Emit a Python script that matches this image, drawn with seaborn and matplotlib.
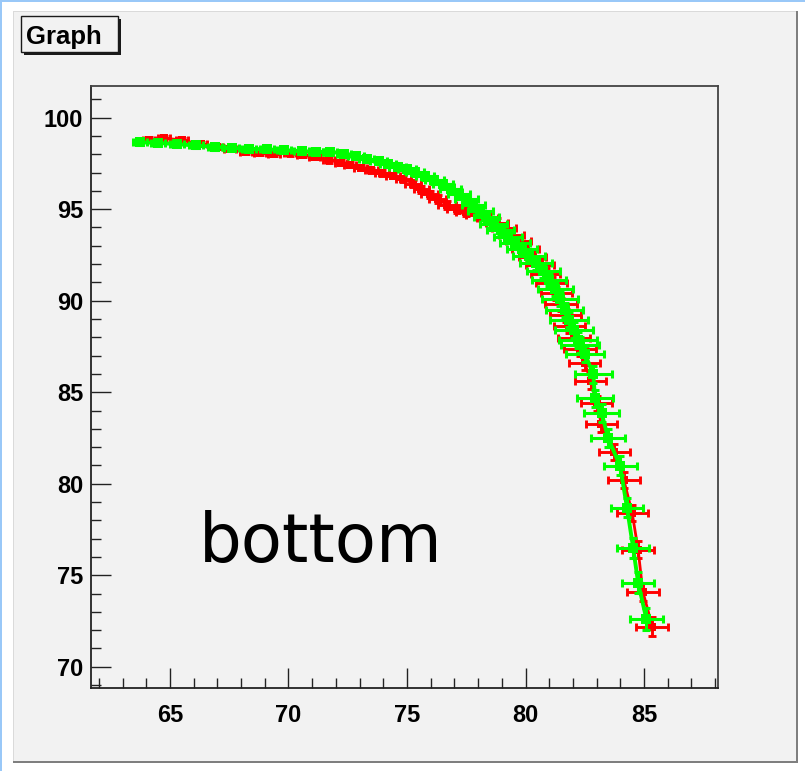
import matplotlib
matplotlib.use("Agg")
import matplotlib.pyplot as plt
from matplotlib.patches import Rectangle
from matplotlib.ticker import MultipleLocator
import numpy as np
import pandas as pd
import seaborn as sns

# ---- data: two curves with x/y uncertainties ----
red_x = [64.10, 64.75, 65.50, 66.30, 67.00, 67.55, 68.20, 68.80, 69.40, 70.05,
         70.60, 71.10, 71.70, 72.20, 72.60, 73.05, 73.50, 73.95, 74.40, 74.85,
         75.25, 75.60, 75.95, 76.30, 76.70, 77.10, 77.50, 77.95, 78.40, 78.80,
         79.10, 79.40, 79.70, 80.00, 80.30, 80.60, 80.85, 81.10, 81.30, 81.50,
         81.70, 81.85, 82.05, 82.30, 82.50, 82.75, 83.00, 83.20, 83.75, 84.15,
         84.50, 84.75, 84.95, 85.35]
red_y = [98.80, 98.88, 98.78, 98.55, 98.40, 98.28, 98.15, 98.08, 98.02, 98.05,
         97.95, 97.85, 97.68, 97.55, 97.42, 97.26, 97.12, 96.98, 96.84, 96.66,
         96.40, 96.10, 95.82, 95.55, 95.25, 95.00, 94.85, 94.70, 94.50, 94.25,
         93.95, 93.60, 93.25, 92.85, 92.40, 91.95, 91.45, 90.95, 90.40, 89.80,
         89.20, 88.60, 87.95, 87.35, 86.60, 85.60, 84.40, 83.25, 81.75, 80.20,
         78.40, 76.40, 74.10, 72.20]
red_ex = [0.25, 0.25, 0.25, 0.25, 0.25, 0.25, 0.25, 0.25, 0.25, 0.25,
          0.25, 0.25, 0.25, 0.25, 0.25, 0.28, 0.28, 0.28, 0.30, 0.30,
          0.32, 0.32, 0.34, 0.36, 0.38, 0.40, 0.42, 0.44, 0.46, 0.48,
          0.50, 0.52, 0.54, 0.56, 0.58, 0.60, 0.62, 0.64, 0.64, 0.66,
          0.66, 0.66, 0.66, 0.66, 0.66, 0.66, 0.66, 0.66, 0.66, 0.66,
          0.66, 0.66, 0.67, 0.67]
red_ey = [0.12, 0.12, 0.12, 0.12, 0.12, 0.12, 0.12, 0.12, 0.12, 0.12,
          0.12, 0.12, 0.14, 0.14, 0.14, 0.14, 0.15, 0.15, 0.16, 0.17,
          0.18, 0.19, 0.20, 0.21, 0.22, 0.23, 0.24, 0.25, 0.26, 0.27,
          0.28, 0.28, 0.29, 0.30, 0.30, 0.31, 0.32, 0.33, 0.34, 0.35,
          0.36, 0.37, 0.38, 0.39, 0.40, 0.41, 0.42, 0.43, 0.44, 0.45,
          0.46, 0.47, 0.48, 0.50]

green_x = [63.75, 64.50, 65.30, 66.10, 66.90, 67.60, 68.35, 69.10, 69.80, 70.55,
           71.15, 71.75, 72.35, 72.85, 73.30, 73.80, 74.20, 74.60, 75.00, 75.35,
           75.75, 76.15, 76.50, 76.85, 77.20, 77.50, 77.80, 78.10, 78.35, 78.65,
           78.95, 79.25, 79.55, 79.85, 80.15, 80.45, 80.75, 81.00, 81.25, 81.45,
           81.65, 81.85, 82.05, 82.23, 82.30, 82.51, 82.86, 82.93, 83.21, 83.49,
           83.99, 84.28, 84.54, 84.75, 85.10]
green_y = [98.65, 98.62, 98.55, 98.48, 98.40, 98.35, 98.30, 98.27, 98.22, 98.18,
           98.12, 98.15, 98.02, 97.88, 97.76, 97.62, 97.48, 97.33, 97.18, 97.02,
           96.82, 96.60, 96.38, 96.12, 95.85, 95.55, 95.22, 94.90, 94.55, 94.20,
           93.85, 93.50, 93.15, 92.80, 92.45, 92.05, 91.60, 91.15, 90.65, 90.10,
           89.50, 88.95, 88.40, 87.85, 87.60, 87.09, 85.98, 84.67, 83.85, 82.48,
           80.97, 78.70, 76.50, 74.60, 72.60]
green_ex = [0.30, 0.30, 0.30, 0.30, 0.30, 0.30, 0.30, 0.30, 0.30, 0.30,
            0.30, 0.30, 0.30, 0.32, 0.32, 0.34, 0.34, 0.36, 0.36, 0.38,
            0.38, 0.40, 0.42, 0.44, 0.46, 0.48, 0.50, 0.52, 0.54, 0.56,
            0.58, 0.60, 0.62, 0.64, 0.66, 0.68, 0.70, 0.72, 0.74, 0.76,
            0.78, 0.80, 0.80, 0.80, 0.80, 0.80, 0.78, 0.76, 0.74, 0.72,
            0.70, 0.66, 0.66, 0.66, 0.68]
green_ey = [0.14, 0.14, 0.14, 0.14, 0.14, 0.14, 0.14, 0.14, 0.14, 0.14,
            0.14, 0.14, 0.15, 0.15, 0.16, 0.16, 0.17, 0.17, 0.18, 0.19,
            0.20, 0.21, 0.22, 0.23, 0.24, 0.25, 0.26, 0.27, 0.28, 0.29,
            0.30, 0.31, 0.32, 0.33, 0.34, 0.35, 0.36, 0.37, 0.38, 0.39,
            0.40, 0.41, 0.42, 0.43, 0.44, 0.45, 0.46, 0.47, 0.48, 0.50,
            0.52, 0.54, 0.56, 0.58, 0.60]

x_ticks = [65, 70, 75, 80, 85]
y_ticks = [70, 75, 80, 85, 90, 95, 100]
x_range = (61.67, 88.12)
y_range = (68.84, 101.73)

W, H = 805, 771
PAD = "#f2f2f2"

fig = plt.figure(figsize=(W / 100, H / 100), dpi=100)
fig.patch.set_facecolor("white")


def px_rect(x0, y0, x1, y1, **kw):
    """Rectangle given in pixel coordinates measured from the top-left."""
    r = Rectangle((x0 / W, 1 - y1 / H), (x1 - x0) / W, (y1 - y0) / H,
                  transform=fig.transFigure, **kw)
    fig.add_artist(r)
    return r


# window frame and canvas pad with bevelled edges
px_rect(0, 0, W, 2, facecolor="#99c8f8", edgecolor="none", zorder=-20)
px_rect(0, 0, 2, H, facecolor="#99c8f8", edgecolor="none", zorder=-20)
px_rect(13, 11, 798, 763, facecolor="#7f7f7f", edgecolor="none", zorder=-19)
px_rect(13, 11, 796, 761, facecolor="#dadada", edgecolor="none", zorder=-18)
px_rect(14, 12, 796, 761, facecolor=PAD, edgecolor="none", zorder=-17)

# title box with drop shadow
px_rect(24, 19, 121, 55, facecolor="#1a1a1a", edgecolor="none", zorder=2)
px_rect(21, 16, 118, 52, facecolor=PAD, edgecolor="#1a1a1a", linewidth=1.0, zorder=3)
fig.text(26 / W, 1 - 44 / H, "Graph", fontsize=18.5, fontweight="bold",
         family="Liberation Sans", color="black", ha="left", va="baseline", zorder=4)

# plotting frame
ax = fig.add_axes([91 / W, 1 - 688 / H, (718 - 91) / W, (688 - 86) / H])
ax.set_facecolor("none")

red_df = pd.DataFrame({"x": red_x, "y": red_y})
green_df = pd.DataFrame({"x": green_x, "y": green_y})

ax.errorbar(red_x, red_y, xerr=red_ex, yerr=red_ey, fmt="none",
            ecolor="#ff0000", elinewidth=2.1, capsize=2.8, capthick=2.1, zorder=2)
sns.lineplot(data=red_df, x="x", y="y", sort=False, estimator=None,
             color="#ff0000", linewidth=2.0, marker="s", markersize=6.0,
             markeredgewidth=0, ax=ax, zorder=3)

ax.errorbar(green_x, green_y, xerr=green_ex, yerr=green_ey, fmt="none",
            ecolor="#00ff00", elinewidth=2.2, capsize=3.0, capthick=2.2, zorder=4)
sns.lineplot(data=green_df, x="x", y="y", sort=False, estimator=None,
             color="#00ff00", linewidth=2.8, marker="s", markersize=7.4,
             markeredgewidth=0, ax=ax, zorder=5)

ax.set_xlim(*x_range)
ax.set_ylim(*y_range)
ax.set_xlabel("")
ax.set_ylabel("")

ax.set_xticks(x_ticks)
ax.set_yticks(y_ticks)
ax.xaxis.set_minor_locator(MultipleLocator(1))
ax.yaxis.set_minor_locator(MultipleLocator(1))
ax.tick_params(which="both", direction="in", top=False, right=False,
               color="#222222", width=1.0)
ax.tick_params(which="major", length=14.4)
ax.tick_params(which="minor", length=7.2)
ax.tick_params(axis="y", which="major", pad=5.5)
ax.tick_params(axis="x", which="major", pad=11.5)
for lab in ax.get_xticklabels() + ax.get_yticklabels():
    lab.set_fontfamily("Liberation Sans")
    lab.set_fontweight("bold")
    lab.set_fontsize(17)
    lab.set_color("black")

for side in ["left", "bottom"]:
    ax.spines[side].set_color("#222222")
    ax.spines[side].set_linewidth(1.3)
for side in ["top", "right"]:
    ax.spines[side].set_color("#444444")
    ax.spines[side].set_linewidth(1.3)

fig.text(199 / W, 1 - 562 / H, "bottom", fontsize=48.5, family="DejaVu Sans",
         color="black", ha="left", va="baseline")

fig.savefig("out.png", dpi=100, facecolor=fig.get_facecolor())
